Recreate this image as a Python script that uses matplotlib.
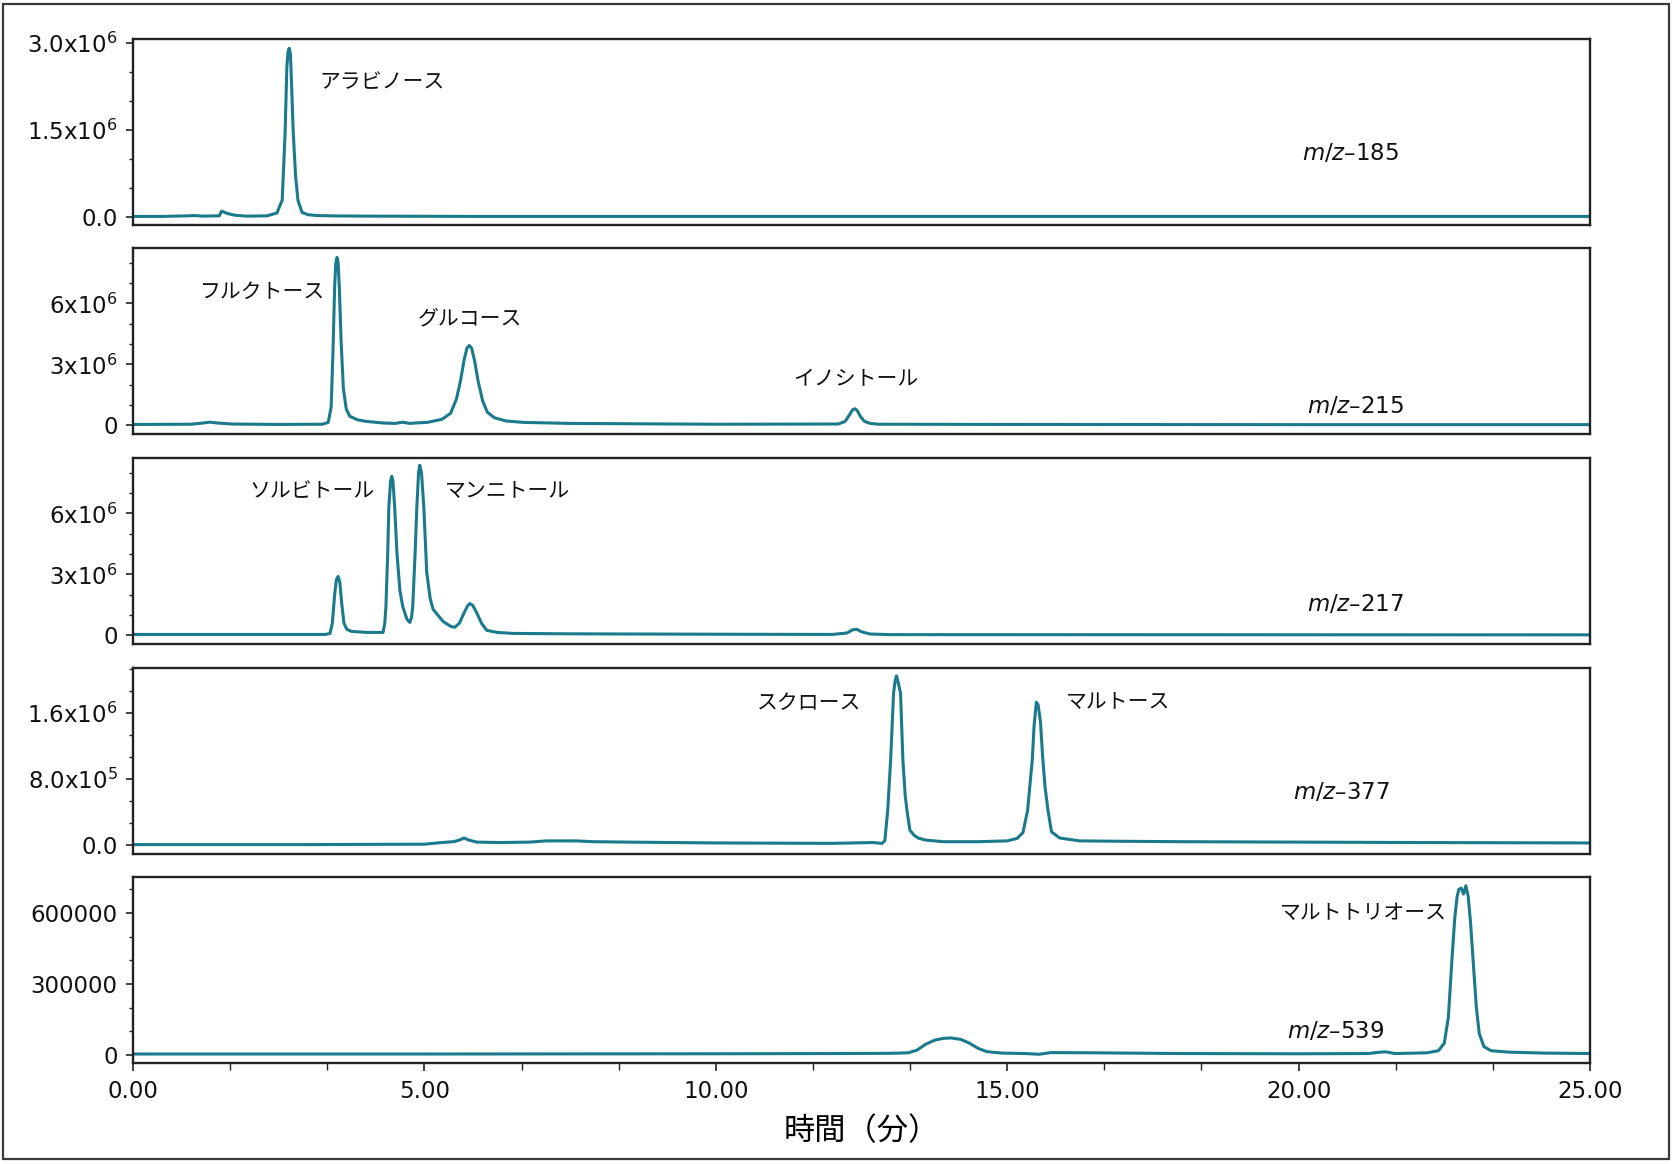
import matplotlib
matplotlib.use("Agg")
import matplotlib.pyplot as plt
from matplotlib.ticker import FixedLocator, FixedFormatter, MultipleLocator, NullLocator
from matplotlib.patches import Rectangle

plt.rcParams['font.family'] = ['DejaVu Sans', 'Noto Sans CJK JP']
plt.rcParams['mathtext.fontset'] = 'dejavusans'
plt.rcParams['mathtext.default'] = 'regular'

JP = ['Noto Sans CJK JP', 'DejaVu Sans']
LINE = '#1a7a8c'
SPINE = '#222222'

# traces: time (min), intensity
# m/z 185 (x1e6)
t185 = [0.0, 0.5, 0.95, 1.05, 1.2, 1.48, 1.52, 1.55, 1.62, 1.75, 1.95, 2.3, 2.47, 2.56,
        2.61, 2.64, 2.66, 2.68, 2.70, 2.71, 2.75, 2.79, 2.83, 2.9, 3.0, 3.15, 3.5, 4.0, 6.0,
        10.0, 15.0, 20.0, 25.0]
i185 = [0.01, 0.01, 0.02, 0.025, 0.015, 0.02, 0.10, 0.09, 0.06, 0.03, 0.015, 0.02, 0.07, 0.29,
        1.45, 2.59, 2.85, 2.91, 2.82, 2.59, 1.45, 0.7, 0.29, 0.08, 0.04, 0.025, 0.018, 0.015,
        0.01, 0.01, 0.01, 0.01, 0.01]

# m/z 215 (x1e6)
t215 = [0.0, 1.0, 1.2, 1.32, 1.45, 1.7, 2.5, 3.25, 3.35, 3.40, 3.43, 3.46, 3.48, 3.50, 3.52,
        3.54, 3.57, 3.61, 3.66, 3.72, 3.85, 4.0, 4.3, 4.5, 4.62, 4.75, 4.9, 5.05, 5.3, 5.45,
        5.55, 5.62, 5.68, 5.73, 5.77, 5.81, 5.86, 5.92, 6.0, 6.08, 6.2, 6.4, 6.7, 7.5, 10.0,
        12.1, 12.22, 12.3, 12.35, 12.39, 12.43, 12.48, 12.55, 12.65, 12.8, 15.0, 20.0, 25.0]
i215 = [0.05, 0.06, 0.12, 0.16, 0.12, 0.07, 0.05, 0.06, 0.15, 0.9, 3.5, 6.8, 8.0, 8.26, 8.0,
        6.8, 4.2, 1.8, 0.8, 0.45, 0.28, 0.2, 0.12, 0.1, 0.16, 0.1, 0.13, 0.15, 0.3, 0.6,
        1.3, 2.2, 3.2, 3.8, 3.93, 3.8, 3.2, 2.2, 1.2, 0.65, 0.38, 0.22, 0.15, 0.1, 0.06,
        0.07, 0.2, 0.55, 0.78, 0.82, 0.72, 0.45, 0.2, 0.1, 0.06, 0.05, 0.04, 0.04]

# m/z 217 (x1e6)
t217 = [0.0, 3.3, 3.38, 3.42, 3.46, 3.49, 3.52, 3.55, 3.58, 3.62, 3.67, 3.75, 4.0, 4.29,
        4.32, 4.34, 4.37, 4.39, 4.42, 4.44, 4.46, 4.49, 4.53, 4.58, 4.63, 4.70, 4.75, 4.78,
        4.80, 4.84, 4.87, 4.90, 4.92, 4.95, 4.99, 5.04, 5.10, 5.15, 5.32, 5.45, 5.52, 5.6,
        5.68, 5.74, 5.78, 5.83, 5.9, 5.98, 6.07, 6.25, 6.52, 7.5, 10.0, 12.0, 12.25, 12.35,
        12.42, 12.5, 12.65, 13.0, 25.0]
i217 = [0.05, 0.05, 0.1, 0.6, 2.0, 2.75, 2.9, 2.6, 1.6, 0.6, 0.3, 0.2, 0.15, 0.15,
        0.6, 1.43, 4.0, 6.3, 7.6, 7.82, 7.6, 6.3, 4.0, 2.2, 1.4, 0.8, 0.64, 0.9,
        1.43, 4.0, 6.3, 8.0, 8.36, 8.0, 6.3, 3.1, 1.8, 1.28, 0.69, 0.45, 0.4, 0.6,
        1.1, 1.45, 1.57, 1.48, 1.1, 0.6, 0.25, 0.15, 0.1, 0.08, 0.06, 0.05, 0.12, 0.28,
        0.3, 0.18, 0.07, 0.04, 0.03]

# m/z 377 (x1e6)
t377 = [0.0, 3.0, 5.0, 5.3, 5.5, 5.6, 5.68, 5.76, 5.9, 6.3, 6.8, 7.1, 7.6, 7.9, 8.5, 10.0,
        12.0, 12.7, 12.85, 12.9, 12.95, 13.0, 13.05, 13.08, 13.10, 13.12, 13.17, 13.21, 13.25,
        13.28, 13.33, 13.4, 13.47, 13.6, 13.9, 14.5, 15.0, 15.17, 15.27, 15.35, 15.43, 15.46,
        15.5, 15.53, 15.57, 15.61, 15.65, 15.7, 15.76, 15.9, 16.24, 17.0, 18.0, 20.0, 22.0,
        25.0]
i377 = [0.005, 0.005, 0.01, 0.03, 0.04, 0.06, 0.085, 0.06, 0.035, 0.03, 0.035, 0.05, 0.05,
        0.04, 0.035, 0.025, 0.02, 0.03, 0.02, 0.05, 0.42, 1.03, 1.84, 2.0, 2.05, 2.0, 1.84,
        1.03, 0.6, 0.42, 0.18, 0.12, 0.085, 0.06, 0.04, 0.04, 0.05, 0.08, 0.15, 0.42, 1.03,
        1.43, 1.73, 1.7, 1.5, 1.05, 0.7, 0.42, 0.16, 0.085, 0.05, 0.045, 0.04, 0.035, 0.03,
        0.025]

# m/z 539 (counts)
t539 = [0.0, 5.0, 10.0, 12.0, 13.0, 13.3, 13.45, 13.6, 13.75, 13.9, 14.03, 14.2, 14.35, 14.5,
        14.65, 14.9, 15.3, 15.55, 15.75, 16.5, 18.0, 20.0, 21.2, 21.4, 21.5, 21.65, 22.2,
        22.4, 22.5, 22.57, 22.63, 22.68, 22.72, 22.75, 22.79, 22.83, 22.87, 22.91, 22.95,
        23.0, 23.05, 23.1, 23.18, 23.3, 23.6, 24.2, 25.0]
i539 = [4000, 4000, 5000, 6000, 7000, 9000, 20000, 45000, 62000, 70000, 72000, 66000, 50000,
        28000, 14000, 8000, 6000, 3000, 10000, 9000, 6000, 5000, 6000, 12000, 13000, 6000,
        9000, 18000, 50000, 160000, 400000, 580000, 670000, 700000, 705000, 680000, 715000,
        670000, 560000, 380000, 200000, 90000, 35000, 18000, 12000, 8000, 6000]

# compound labels per panel: name, time, intensity
names185 = ['アラビノース']
pos185 = [(3.2, 2.33e6)]
names215 = ['フルクトース', 'グルコース', 'イノシトール']
pos215 = [(1.15, 6.54e6), (4.89, 5.26e6), (11.32, 2.26e6)]
names217 = ['ソルビトール', 'マンニトール']
pos217 = [(2.0, 7.08e6), (5.35, 7.08e6)]
names377 = ['スクロース', 'マルトース']
pos377 = [(10.7, 1.72e6), (16.0, 1.73e6)]
names539 = ['マルトトリオース']
pos539 = [(19.67, 6.0e5)]

mz_values = ['185', '215', '217', '377', '539']
mz_pos = [(20.05, 1.1e6), (20.15, 0.93e6), (20.15, 1.52e6), (19.9, 0.64e6), (19.8, 1.0e5)]

yticks = [[0, 1.5e6, 3.0e6], [0, 3e6, 6e6], [0, 3e6, 6e6], [0, 8e5, 1.6e6], [0, 3e5, 6e5]]
yticklabels = [['0.0', '1.5x10$^6$', '3.0x10$^6$'],
               ['0', '3x10$^6$', '6x10$^6$'],
               ['0', '3x10$^6$', '6x10$^6$'],
               ['0.0', '8.0x10$^5$', '1.6x10$^6$'],
               ['0', '300000', '600000']]
yminor = [5e5, 1e6, 1e6, 8e5 / 3, 1e5]
ylims = [(-1.38e5, 3.07e6), (-4.2e5, 8.72e6), (-4.2e5, 8.72e6), (-1.09e5, 2.145e6),
         (-3.4e4, 7.52e5)]

xticks = [0, 5, 10, 15, 20, 25]
xticklabels = ['0.00', '5.00', '10.00', '15.00', '20.00', '25.00']

traces = [(t185, [v * 1e6 for v in i185]),
          (t215, [v * 1e6 for v in i215]),
          (t217, [v * 1e6 for v in i217]),
          (t377, [v * 1e6 for v in i377]),
          (t539, i539)]
labels = [(names185, pos185), (names215, pos215), (names217, pos217),
          (names377, pos377), (names539, pos539)]

fig = plt.figure(figsize=(16.76, 11.64), dpi=100)
fig.patches.append(Rectangle((3 / 1676, 5 / 1164), 1666 / 1676, 1155 / 1164,
                             transform=fig.transFigure, fill=False,
                             edgecolor='#3a3a3a', linewidth=1.6))

left, width = 133 / 1676, 1457 / 1676
panel_bottoms = [225, 434, 644, 854, 1063]
ph = 186 / 1164

for k in range(5):
    ax = fig.add_axes([left, 1 - panel_bottoms[k] / 1164, width, ph])
    t, y = traces[k]
    ax.plot(t, y, color=LINE, lw=2.2, solid_joinstyle='round')
    ax.set_xlim(0, 25)
    ax.set_ylim(*ylims[k])
    ax.yaxis.set_major_locator(FixedLocator(yticks[k]))
    ax.yaxis.set_major_formatter(FixedFormatter(yticklabels[k]))
    ax.yaxis.set_minor_locator(MultipleLocator(yminor[k]))
    ax.tick_params(axis='y', which='major', length=5, width=1.2, labelsize=16.5, pad=6,
                   colors=SPINE, labelcolor='#111111')
    ax.tick_params(axis='y', which='minor', length=3, width=1.0, colors=SPINE)
    for s in ax.spines.values():
        s.set_color(SPINE)
        s.set_linewidth(1.7)
    if k < 4:
        ax.xaxis.set_major_locator(NullLocator())
        ax.xaxis.set_minor_locator(NullLocator())
    else:
        ax.set_xticks(xticks)
        ax.set_xticklabels(xticklabels)
        ax.xaxis.set_minor_locator(MultipleLocator(5 / 3))
        ax.tick_params(axis='x', which='major', length=6, width=1.2, labelsize=16.5, pad=6,
                       colors=SPINE, labelcolor='#111111')
        ax.tick_params(axis='x', which='minor', length=5, width=1.0, colors=SPINE)
        ax.set_xlabel('時間（分）', family=JP, fontsize=22.5, labelpad=9)

    names, pos = labels[k]
    for name, (px, py) in zip(names, pos):
        ax.text(px, py, name, family=JP, fontsize=15, ha='left', va='center', color='#111111')
    mx, my = mz_pos[k]
    ax.text(mx, my, r'$\mathit{m/z}$–' + mz_values[k], fontsize=16.5, ha='left', va='center',
            color='#111111')

fig.savefig('out.png', dpi=100)
